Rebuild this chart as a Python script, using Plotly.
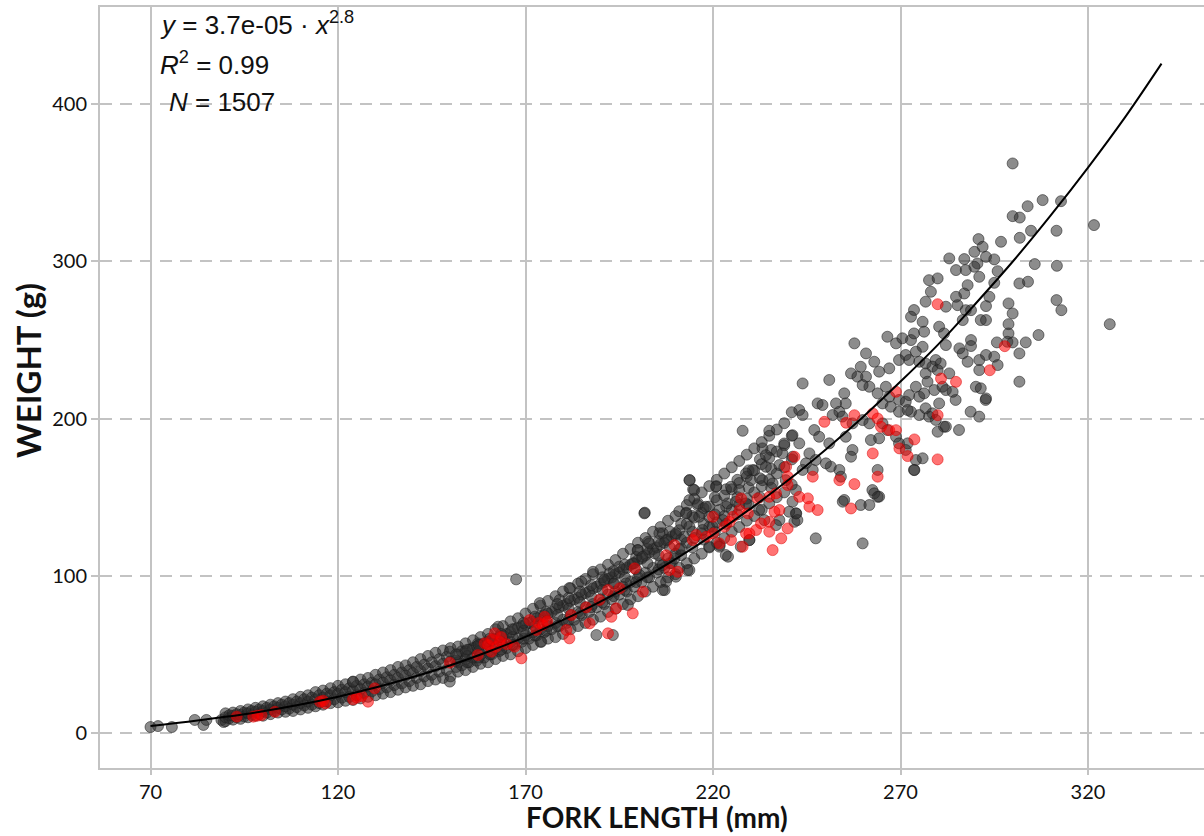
import plotly.graph_objects as go

# ---------------- data (fork length in mm, weight in g) ----------------
gray_sparse = [(70.0, 3.8), (72.0, 4.4), (75.7, 3.8), (81.8, 8.3), (84.1, 5.1), (84.9, 8.3),
               (88.9, 8.3), (89.5, 7.0)]

gray_small = [(90, 7.5), (90, 10), (90, 12.5), (91, 9.3), (91, 11.3), (92, 8.5), (92, 11), (92, 13),
              (93, 10), (93, 12), (94, 9), (94, 11.5), (94, 14), (95, 10.5), (95, 13), (96, 10),
              (96, 12.5), (96, 15), (97, 11.5), (97, 14), (98, 11), (98, 13.5), (98, 16), (99, 12),
              (99, 15), (100, 11), (100, 14), (100, 17), (101, 13), (101, 16), (102, 12), (102, 15),
              (102, 18), (103, 14), (103, 17), (104, 13), (104, 16), (104, 19), (105, 15), (105, 18),
              (106, 13.5), (106, 17), (106, 20), (107, 15.5), (107, 19), (108, 14), (108, 18),
              (108, 21.5), (109, 16.5), (109, 20), (110, 15), (110, 19), (110, 23), (111, 17.5),
              (111, 21.5), (112, 16), (112, 20), (112, 24), (113, 18), (113, 22.5), (114, 17),
              (114, 21.5), (114, 26), (115, 19), (115, 24), (116, 18), (116, 22.5), (116, 27),
              (117, 20), (117, 25), (118, 19), (118, 24), (118, 28.5), (119, 21.5), (119, 26),
              (120, 19.5), (120, 25), (120, 30), (121, 22.5), (121, 27.5), (122, 20.5), (122, 26),
              (122, 31), (123, 23), (123, 28.5), (124, 21), (124, 27), (124, 32.5), (125, 24),
              (125, 30), (126, 22), (126, 28), (126, 34), (127, 25.5), (127, 31), (128, 23),
              (128, 29.5), (128, 35), (129, 26.5), (129, 32), (130, 24), (130, 31), (130, 37),
              (131, 28), (131, 34), (132, 25), (132, 32), (132, 38.5), (133, 29), (133, 35.5),
              (134, 26), (134, 33.5), (134, 40), (135, 30.5), (135, 37), (136, 27.5), (136, 35),
              (136, 42), (137, 31.5), (137, 38.5), (138, 29), (138, 36.5), (138, 43), (139, 33),
              (139, 40), (140, 30), (140, 38), (140, 45), (141, 35), (141, 42), (142, 31),
              (142, 39.5), (142, 47), (143, 36), (143, 43.5), (144, 33), (144, 41), (144, 49),
              (145, 37), (145, 45), (146, 34), (146, 42.5), (146, 51), (147, 39), (147, 47),
              (148, 35), (148, 44), (148, 52.5), (149, 40), (149, 48.5), (150, 36), (150, 45.5),
              (150, 54), (124.0, 32.7), (149.8, 51.7), (149.8, 32.7), (157.3, 57.0)]

gray_mid = [(152, 39), (152, 45), (152, 50), (152, 55), (153, 43), (153, 52), (154, 40), (154, 47),
            (154, 52), (154, 57), (155, 45), (155, 53), (156, 42), (156, 48), (156, 54), (156, 59),
            (157, 46), (157, 55), (158, 44), (158, 50), (158, 56), (158, 61), (159, 48), (159, 57),
            (160, 45), (160, 52), (160, 58), (160, 63), (161, 50), (161, 59), (162, 47), (162, 54),
            (162, 60), (162, 66), (163, 52), (163, 61), (164, 49), (164, 56), (164, 62), (164, 68),
            (165, 54), (165, 63), (166, 50), (166, 58), (166, 64), (166, 71), (167, 56), (167, 66),
            (168, 52), (168, 60), (168, 67), (168, 73), (169, 58), (169, 68), (170, 54), (170, 62),
            (170, 69), (170, 76), (171, 60), (171, 70), (172, 56), (172, 64), (172, 71), (172, 79),
            (173, 62), (173, 73), (174, 58), (174, 66), (174, 74), (174, 81), (175, 64), (175, 75),
            (176, 60), (176, 68), (176, 76), (176, 84), (177, 66), (177, 77), (178, 61), (178, 70),
            (178, 79), (178, 87), (179, 68), (179, 80), (180, 63), (180, 72), (180, 81), (180, 90),
            (181, 70), (181, 82), (182, 66), (182, 75), (182, 84), (182, 92), (183, 72), (183, 85),
            (184, 68), (184, 77), (184, 86), (184, 95), (185, 75), (185, 88), (186, 70), (186, 80),
            (186, 89), (186, 98), (187, 77), (187, 90), (188, 72), (188, 82), (188, 92), (188, 101),
            (189, 80), (189, 93), (190, 74), (190, 85), (190, 95), (190, 104), (191, 82), (191, 96),
            (192, 77), (192, 88), (192, 98), (192, 107), (193, 85), (193, 99), (194, 79), (194, 90),
            (194, 101), (194, 110), (195, 88), (195, 102), (196, 82), (196, 93), (196, 104),
            (196, 114), (197, 90), (197, 105), (198, 85), (198, 96), (198, 107), (198, 117),
            (199, 93), (199, 108), (200, 87), (200, 99), (200, 110), (200, 121), (201, 96),
            (201, 111), (202, 90), (202, 102), (202, 113), (202, 124), (203, 99), (203, 115),
            (204, 93), (204, 105), (204, 117), (204, 128), (205, 102), (205, 118), (206, 96),
            (206, 108), (206, 120), (206, 131), (207, 105), (207, 121), (208, 99), (208, 111),
            (208, 123), (208, 135), (209, 108), (209, 125), (210, 101), (210, 114), (210, 126),
            (210, 138),
            (167.5, 97.7), (162.7, 67.6), (173.8, 82.6), (174.2, 58), (179.1, 84.6), (181.7, 92.2),
            (184.9, 96.2), (188, 102.5), (188.9, 62.3), (193.3, 62.3), (197.3, 81.4), (201.8, 140.1),
            (202.7, 121.6), (200, 116.3), (206.6, 127), (207.1, 90.9), (213.7, 103.6), (221.8, 119.5),
            (224, 112.1), (229.7, 122.7), (241.7, 134.3), (242.2, 139.6), (212.9, 140.1),
            (213.8, 160.8), (214.7, 154.9), (216, 146), (220.9, 157)]

gray_band_fill = [(151.5, 42), (151.5, 46), (151.5, 50), (154.5, 45), (154.5, 49), (154.5, 53),
                  (157.5, 48), (157.5, 52), (157.5, 56), (160.5, 50), (160.5, 55), (160.5, 60),
                  (163.5, 53), (163.5, 58), (163.5, 63), (166.5, 56), (166.5, 61), (166.5, 66),
                  (169.5, 60), (169.5, 65), (169.5, 70), (172.5, 62), (172.5, 68), (172.5, 74),
                  (175.5, 65), (175.5, 71), (175.5, 77), (178.5, 68), (178.5, 75), (178.5, 82),
                  (181.5, 72), (181.5, 79), (181.5, 86), (184.5, 76), (184.5, 83), (184.5, 90),
                  (187.5, 80), (187.5, 87), (187.5, 94), (190.5, 83), (190.5, 91), (190.5, 99),
                  (193.5, 87), (193.5, 95), (193.5, 103), (196.5, 91), (196.5, 99), (196.5, 107),
                  (199.5, 96), (199.5, 104), (199.5, 112), (202.5, 99), (202.5, 108), (202.5, 117),
                  (205.5, 104), (205.5, 113), (205.5, 122), (208.5, 108), (208.5, 118), (208.5, 128),
                  (211.5, 113), (211.5, 123), (211.5, 133), (214.5, 118), (214.5, 128), (214.5, 138),
                  (217.5, 123), (217.5, 133), (217.5, 143), (220.5, 128), (220.5, 139), (220.5, 150),
                  (223.5, 133), (223.5, 144), (223.5, 155), (226.5, 139), (226.5, 150), (226.5, 161),
                  (229.5, 145), (229.5, 156), (229.5, 167), (232.5, 150), (232.5, 162), (232.5, 174),
                  (235.5, 156), (235.5, 168), (235.5, 180)]

gray_upper = [(211, 105), (211, 117), (211, 129), (211, 141), (213, 108), (213, 121), (213, 133),
              (213, 145), (215, 111), (215, 124), (215, 137), (215, 149), (217, 114), (217, 127),
              (217, 140), (217, 153), (219, 118), (219, 131), (219, 144), (219, 157), (221, 121),
              (221, 134), (221, 148), (221, 161), (223, 124), (223, 138), (223, 151), (223, 165),
              (225, 128), (225, 142), (225, 155), (225, 169), (227, 131), (227, 145), (227, 159),
              (227, 173), (229, 135), (229, 149), (229, 163), (229, 177), (231, 138), (231, 153),
              (231, 167), (231, 181), (233, 142), (233, 157), (233, 171), (233, 185), (235, 146),
              (235, 161), (235, 175), (235, 189), (237, 150), (237, 165), (237, 179), (237, 193),
              (239, 153), (239, 169), (239, 183), (239, 197), (241, 158), (241, 174), (241, 189),
              (241, 204),
              (227.9, 192.2), (235.0, 192.2), (239.0, 184.1), (241.2, 189.4), (233.2, 181),
              (234.1, 176.7), (238.5, 177.8), (230.6, 167.2), (234.1, 169.3), (237.7, 170.4),
              (241.2, 175.7), (228.8, 165.1), (230.1, 160.8), (233.2, 160.8), (235.9, 158.7),
              (239.4, 160.8), (242.1, 154.5), (241.2, 147.1), (242.1, 139.7), (242.5, 135.4),
              (237.7, 135.4), (236.8, 132.2), (240.3, 140.7), (224.8, 156.6), (227, 154.5),
              (223.9, 146), (226.1, 147.1), (220.8, 156.6), (221.7, 141.8), (222.6, 135.4),
              (228.8, 146), (232.3, 141.8), (233.7, 135.4), (229.7, 122.7), (227.4, 118.5),
              (223.4, 113.2), (221.7, 118.5), (213.7, 160.8), (215, 154.5), (213.7, 148.1),
              (215.9, 144.9), (212.8, 139.7), (216.3, 137.5), (218.1, 143.9), (219, 137.5),
              (219.9, 131.2), (217.2, 129.1), (213.7, 131.2), (212.3, 124.8), (210.1, 127),
              (207.5, 122.7), (205.7, 127), (203, 120.6), (199.9, 116.3), (201.2, 112.1),
              (204.4, 114.2), (206.6, 106.8), (209.7, 111), (211.5, 117.4), (213.2, 103.6),
              (210.1, 99.4), (207.5, 96.2), (206.6, 90.9), (198.6, 107.9), (195, 105.8),
              (192.4, 101.5), (191, 97.3), (193.7, 95.2), (196.8, 95.2), (200.4, 100.5),
              (201.7, 139.7), (219, 118.5), (259.9, 120.6), (247.4, 123.8)]

gray_large = [(277.6, 288), (279.9, 289.1), (278.1, 280.6), (276.7, 274.3), (282.1, 271.1),
              (280.3, 258.4), (273.6, 269), (272.8, 264.7), (275.9, 261.5), (281.6, 254.1),
              (282.1, 246.7), (292.7, 211.8), (284.7, 211.8),
              (266.5, 252), (268.8, 247.8), (270.5, 251), (272.8, 249.9), (273.6, 254.1),
              (276.3, 255.2), (275.9, 245.6), (274.1, 242.5), (271.4, 240.4), (269.6, 237.2),
              (272.3, 237.2), (275, 236.1), (276.7, 235), (279.4, 237.2), (278.5, 233),
              (279.9, 230.8), (280.7, 235), (276.7, 228.7), (277.2, 223.4), (279, 218.1),
              (281.2, 220.2), (282.1, 218.1), (280.3, 209.6), (278.5, 203.3), (279.4, 199.1),
              (277.6, 201.2), (275, 202.2), (272.8, 204.3), (271.4, 210.7), (272.3, 214.9),
              (275, 213.9), (276.3, 216), (274.1, 220.2), (276.7, 206.5), (281.6, 194.8),
              (285.6, 192.7), (288.7, 204.3), (291, 201.2),
              (260.8, 241.4), (263, 236.1), (264.3, 229.8), (260.8, 226.6), (261.7, 220.2),
              (263.9, 216), (266.1, 220.2), (267, 213.9), (265.2, 209.6), (267.4, 207.5),
              (269.6, 211.8), (269.6, 204.3), (271.9, 205.4), (267, 231.9), (257.7, 247.8),
              (256.8, 228.7), (259.4, 232.9), (258.5, 226.6), (259.9, 221.3), (255, 216),
              (255.4, 209.6), (252.8, 209.6), (251, 224.5), (253.7, 204.3), (247.9, 209.6),
              (249.2, 208.6), (251.9, 202.2), (254.5, 201.2), (257.2, 196.9), (259.9, 199),
              (261.7, 196.9), (262.1, 186.3), (264.3, 187.4), (266.5, 192.7), (265.2, 196.9),
              (268.8, 188.4), (269.6, 184.2), (271.4, 180), (273.6, 167.3), (263.9, 167.3),
              (262.5, 154.5), (255, 148.2), (259.4, 145), (261.7, 145), (264.3, 150.3),
              (257.2, 180), (256.8, 175.7), (253.7, 167.3), (254.1, 163), (251.4, 169.4),
              (255.4, 188.4), (243.9, 222.3), (243, 205.4), (243.9, 202.2), (247, 192.7),
              (248.3, 188.4), (251, 184.2), (245.7, 177.8), (247.4, 173.6), (244.8, 171.5),
              (250.1, 171.5), (246.6, 167.3), (243.9, 167.3), (243, 184.2), (275.9, 174.7),
              (279.9, 191.6), (282.1, 194.8), (271.9, 184.2), (274.1, 173.6),
              (254.6, 147.1), (263, 152.4), (263.9, 150.2), (273.7, 167.2),
              (299.9, 362.2), (307.9, 338.9), (303.9, 335), (312.8, 338.2), (299.9, 328.7),
              (301.8, 327.8), (304.8, 319.4), (311.6, 319.4), (296.8, 312.4), (301.8, 314.9),
              (290.8, 314.1), (291.9, 309.2), (289.7, 306), (292.8, 302.8), (295, 301.2),
              (287, 301.4), (283, 301.8), (290.5, 298.6), (289.7, 296.5), (284.8, 294.4),
              (287.4, 294.4), (291, 290.1), (295.9, 293.7), (305.8, 298.2), (311.7, 297.1),
              (287.9, 284.8), (295, 286.3), (301.7, 285.9), (304, 287), (287, 279.5),
              (284.8, 277.4), (293.7, 277.4), (292.8, 271.5), (285.2, 272.1), (287.4, 268.9),
              (288.8, 268.9), (286.6, 262.6), (291.4, 262.6), (292.8, 262.6), (298.8, 273.2),
              (299.9, 266.8), (298.8, 260), (298.8, 254.1), (298.5, 248.8), (295.7, 248.4),
              (299.9, 248.4), (303.4, 248.4), (306.8, 253.1), (301.7, 241.4), (311.6, 275.3),
              (312.9, 268.9), (285.7, 244.6), (288.8, 249.9), (288.8, 246.1), (286.6, 241.4),
              (287.9, 236.1), (291, 237.2), (292.8, 240.4), (295, 239.3), (295.9, 234),
              (291, 230.8), (290.1, 220.2), (291.4, 219.2), (301.7, 223.4), (283, 228.7),
              (283.9, 217), (292.8, 212.8), (325.8, 260), (321.6, 323)]

red_points = [(93, 10.4), (97.4, 10.4), (98.5, 11), (99.6, 11.4), (103.2, 13.5), (115.2, 19.9),
              (116, 20.5), (116.6, 18.9), (124, 21.4), (125, 22.5), (126.3, 23.5), (128, 19.9),
              (129.8, 28.4),
              (149.8, 44.7), (157.3, 49.6), (159.1, 57), (160, 56), (161, 59.5), (161.8, 63.4),
              (162.2, 54.9), (160.9, 51.7), (163.1, 58), (163.5, 61), (165, 56.5), (167.1, 54.9),
              (168.9, 47.5), (171.1, 71.8), (172.9, 65.5), (173.5, 70), (174.6, 68.7),
              (175.1, 73.9), (175.8, 71), (180.9, 65.5), (181.7, 60.2), (182.2, 75), (186.2, 79.9),
              (187.1, 69.7), (189.7, 84.6), (192, 90.9), (192.9, 73.9), (194.2, 79.3), (195.1, 92),
              (198.6, 76.1), (199.1, 104.7), (201.3, 89.8), (192, 63.4), (207.5, 113),
              (209.7, 119.5), (210.6, 102.5), (208.4, 103.6), (214.6, 122.7), (215.5, 125.9),
              (279.9, 272.7), (297.8, 246), (293.8, 230.7), (280.8, 225.4), (284.8, 223.3),
              (268.8, 217), (279.9, 202.1), (257.7, 202.1), (262.6, 203.2), (263.9, 200),
              (249.7, 197.9), (255.5, 197.3), (264.8, 194.7), (267, 192.6), (268.8, 192.6),
              (273.7, 186.7), (262.6, 177.8), (269.7, 181), (271.9, 176.1), (279.9, 174),
              (246.6, 163), (253.7, 160.8), (257.7, 158.3), (263.9, 163), (256.8, 142.8),
              (241.7, 175.7), (239.5, 169.3), (239.9, 163), (239.9, 157.7), (236.8, 152.4),
              (235, 150.2), (231.9, 149.2), (227.5, 149.2), (229.3, 139.6), (227.1, 141.8),
              (225.3, 137.5), (223.1, 131.2), (220, 137.5), (220, 126.9), (218.2, 124.8),
              (224.8, 122.7), (228.8, 126.9), (232.8, 133.3), (235, 128), (238.2, 123.8),
              (239.9, 130.1), (243, 150.2), (245.3, 149.2), (245.7, 143.9), (247.9, 141.8),
              (237.7, 141.8), (236.4, 140.7), (235, 134.3), (231.5, 129.1), (229.7, 126.9),
              (227.9, 118.5), (221.7, 120.6), (224.4, 134.3), (235.9, 116.3)]

fit_len = [70, 80, 90, 100, 110, 120, 130, 140, 150, 160, 170, 180, 190, 200, 210, 220, 230,
           240, 250, 260, 270, 280, 290, 300, 310, 320, 330, 339.6]
fit_wt = [4.5, 7.2, 10.3, 13.8, 18.1, 23.1, 28.9, 35.6, 43.1, 51.7, 61.1, 71.9, 83.6, 96.6,
          110.6, 126, 142.7, 160.7, 180.2, 201, 223.5, 247, 273, 300, 329, 359.6, 392, 425.7]

x_ticks = [70, 120, 170, 220, 270, 320]
y_ticks = [0, 100, 200, 300, 400]

gray_all = gray_sparse + gray_small + gray_mid + gray_band_fill + gray_upper + gray_large
gray_len = [p[0] for p in gray_all]
gray_wt = [p[1] for p in gray_all]
red_len = [p[0] for p in red_points]
red_wt = [p[1] for p in red_points]

# ---------------- figure ----------------
fig = go.Figure()
fig.add_trace(go.Scatter(
    x=gray_len, y=gray_wt, mode="markers",
    marker=dict(size=11, color="rgba(45,45,45,0.55)",
                line=dict(width=1, color="rgba(30,30,30,0.55)")),
    showlegend=False, hoverinfo="skip"))
fig.add_trace(go.Scatter(
    x=red_len, y=red_wt, mode="markers",
    marker=dict(size=11, color="rgba(255,0,0,0.55)",
                line=dict(width=1, color="rgba(220,0,0,0.5)")),
    showlegend=False, hoverinfo="skip"))
fig.add_trace(go.Scatter(
    x=fit_len, y=fit_wt, mode="lines", line=dict(color="black", width=2, shape="spline"),
    showlegend=False, hoverinfo="skip"))

axis_col = "#c3c3c3"
fig.update_layout(
    width=1204, height=836,
    margin=dict(l=100, r=0, t=7, b=68),
    paper_bgcolor="white", plot_bgcolor="white",
    font=dict(family="Lato, 'Open Sans', sans-serif", color="#111111"),
    xaxis=dict(range=[56.53, 350.93], tickvals=x_ticks, showgrid=True, gridcolor=axis_col,
               gridwidth=2, zeroline=False, showline=True, linecolor=axis_col, linewidth=2,
               mirror=True, ticks="outside", ticklen=5, tickwidth=2, tickcolor=axis_col,
               tickfont=dict(size=20, family="Lato", color="#111111")),
    yaxis=dict(range=[-22.26, 461.7], tickvals=y_ticks, showgrid=True, gridcolor=axis_col,
               gridwidth=2, griddash="12px,8px", zeroline=False, showline=True,
               linecolor=axis_col, linewidth=2, ticks="outside", ticklen=7, tickwidth=2,
               tickcolor=axis_col, tickfont=dict(size=20, family="Lato", color="#111111")),
)

eq_font = dict(family="Liberation Sans, Arial", size=26, color="#111111")
fig.add_annotation(xref="paper", yref="paper", x=0.0525, y=0.978, xanchor="left",
                   yanchor="middle", showarrow=False, font=eq_font,
                   text="<i>y</i> = 3.7e-05 · <i>x</i><sup>2.8</sup>")
fig.add_annotation(xref="paper", yref="paper", x=0.0525, y=0.926, xanchor="left",
                   yanchor="middle", showarrow=False, font=eq_font,
                   text="<i>R</i><sup>2</sup> = 0.99")
fig.add_annotation(xref="paper", yref="paper", x=0.0607, y=0.8752, xanchor="left",
                   yanchor="middle", showarrow=False, font=eq_font,
                   text="<i>N</i> = 1507")

fig.add_annotation(xref="paper", yref="paper", x=0.5045, y=-0.0645, xanchor="center",
                   yanchor="middle", showarrow=False,
                   font=dict(family="Lato", size=28, color="#111111"),
                   text="<b>FORK LENGTH (mm)</b>")
fig.add_annotation(xref="paper", yref="paper", x=-0.065, y=0.522, xanchor="center",
                   yanchor="middle", showarrow=False, textangle=-90,
                   font=dict(family="Lato", size=33, color="#111111"),
                   text="<b>WEIGHT (g)</b>")

fig.write_html("out.html")
